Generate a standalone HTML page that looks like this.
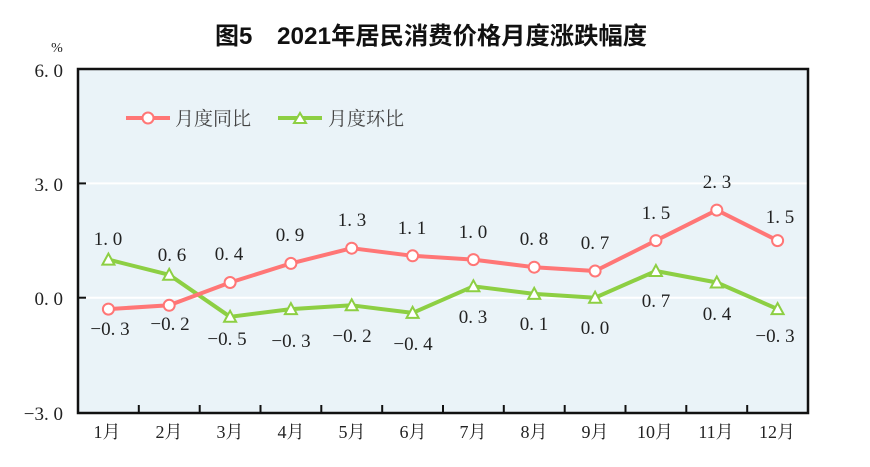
<!DOCTYPE html>
<html>
<head>
<meta charset="utf-8">
<style>
  html, body { margin:0; padding:0; background:#ffffff; }
  svg { display:block; }
  .ser { font-family: "Liberation Serif", "Noto Serif CJK SC", serif; }
  .san { font-family: "Liberation Sans", "Noto Sans CJK SC", sans-serif; }
</style>
</head>
<body>
<svg width="870" height="467" viewBox="0 0 870 467" xmlns="http://www.w3.org/2000/svg">
  <rect x="0" y="0" width="870" height="467" fill="#ffffff"/>

  <!-- Title -->
  <text class="san" x="215" y="44" font-size="24" font-weight="bold" fill="#111">图5</text>
  <text class="san" x="277" y="44" font-size="24" font-weight="bold" fill="#111" textLength="370" lengthAdjust="spacingAndGlyphs">2021年居民消费价格月度涨跌幅度</text>

  <!-- plot area -->
  <rect x="78" y="69" width="730" height="344" fill="#eaf3f8"/>
  <!-- gridlines -->
  <line x1="78" y1="183.4" x2="808" y2="183.4" stroke="#ffffff" stroke-width="2"/>
  <line x1="78" y1="297.7" x2="808" y2="297.7" stroke="#ffffff" stroke-width="2"/>

  <!-- frame -->
  <rect x="78" y="69" width="730" height="344" fill="none" stroke="#111" stroke-width="2.5"/>

  <!-- y ticks -->
  <line x1="78" y1="183.4" x2="86" y2="183.4" stroke="#111" stroke-width="2"/>
  <line x1="78" y1="297.7" x2="86" y2="297.7" stroke="#111" stroke-width="2"/>

  <!-- x ticks -->
  <g stroke="#111" stroke-width="2">
    <line x1="138.8" y1="413" x2="138.8" y2="405"/>
    <line x1="199.7" y1="413" x2="199.7" y2="405"/>
    <line x1="260.5" y1="413" x2="260.5" y2="405"/>
    <line x1="321.3" y1="413" x2="321.3" y2="405"/>
    <line x1="382.2" y1="413" x2="382.2" y2="405"/>
    <line x1="443.0" y1="413" x2="443.0" y2="405"/>
    <line x1="503.8" y1="413" x2="503.8" y2="405"/>
    <line x1="564.7" y1="413" x2="564.7" y2="405"/>
    <line x1="625.5" y1="413" x2="625.5" y2="405"/>
    <line x1="686.3" y1="413" x2="686.3" y2="405"/>
    <line x1="747.2" y1="413" x2="747.2" y2="405"/>
  </g>

  <!-- y labels -->
  <g class="ser" font-size="19" fill="#222" text-anchor="end">
    <text x="63" y="77">6. 0</text>
    <text x="63" y="191">3. 0</text>
    <text x="63" y="305">0. 0</text>
    <text x="63" y="420">−3. 0</text>
  </g>
  <text class="ser" x="57" y="52" font-size="14" fill="#222" text-anchor="middle">%</text>

  <!-- x labels -->
  <g class="ser" font-size="18" fill="#222" text-anchor="middle">
    <text x="107" y="438">1月</text>
    <text x="169" y="438">2月</text>
    <text x="230" y="438">3月</text>
    <text x="291" y="438">4月</text>
    <text x="352" y="438">5月</text>
    <text x="413" y="438">6月</text>
    <text x="473" y="438">7月</text>
    <text x="534" y="438">8月</text>
    <text x="595" y="438">9月</text>
    <text x="655" y="438">10月</text>
    <text x="716" y="438">11月</text>
    <text x="777" y="438">12月</text>
  </g>

  <!-- legend -->
  <line x1="126" y1="118" x2="170" y2="118" stroke="#ff7676" stroke-width="4"/>
  <circle cx="148" cy="118" r="5.5" fill="#fff" stroke="#ff7676" stroke-width="2"/>
  <text class="ser" x="175" y="125" font-size="19" fill="#444">月度同比</text>
  <line x1="278" y1="118" x2="322" y2="118" stroke="#8dcf43" stroke-width="4"/>
  <polygon points="294,123 306,123 300,113" fill="#fff" stroke="#8dcf43" stroke-width="2"/>
  <text class="ser" x="328" y="125" font-size="19" fill="#444">月度环比</text>

  <!-- green series 环比 -->
  <polyline fill="none" stroke="#8dcf43" stroke-width="4" stroke-linejoin="round"
    points="108.4,259.6 169.2,274.8 230.1,316.8 290.9,309.1 351.7,305.3 412.6,312.9 473.4,286.3 534.2,293.9 595.1,297.7 655.9,271.0 716.8,282.5 777.6,309.1"/>

  <!-- red series 同比 -->
  <polyline fill="none" stroke="#ff7676" stroke-width="4" stroke-linejoin="round"
    points="108.4,309.1 169.2,305.3 230.1,282.5 290.9,263.4 351.7,248.2 412.6,255.8 473.4,259.6 534.2,267.2 595.1,271.0 655.9,240.6 716.8,210.1 777.6,240.6"/>

  <!-- green markers -->
  <g fill="#fff" stroke="#8dcf43" stroke-width="2">
    <polygon points="102.4,264.6 114.4,264.6 108.4,253.6"/>
    <polygon points="163.2,279.8 175.2,279.8 169.2,268.8"/>
    <polygon points="224.1,321.8 236.1,321.8 230.1,310.8"/>
    <polygon points="284.9,314.1 296.9,314.1 290.9,303.1"/>
    <polygon points="345.7,310.3 357.7,310.3 351.7,299.3"/>
    <polygon points="406.6,317.9 418.6,317.9 412.6,306.9"/>
    <polygon points="467.4,291.3 479.4,291.3 473.4,280.3"/>
    <polygon points="528.2,298.9 540.2,298.9 534.2,287.9"/>
    <polygon points="589.1,302.7 601.1,302.7 595.1,291.7"/>
    <polygon points="649.9,276.0 661.9,276.0 655.9,265.0"/>
    <polygon points="710.8,287.5 722.8,287.5 716.8,276.5"/>
    <polygon points="771.6,314.1 783.6,314.1 777.6,303.1"/>
  </g>

  <!-- red markers -->
  <g fill="#fff" stroke="#ff7676" stroke-width="2">
    <circle cx="108.4" cy="309.1" r="5.5"/>
    <circle cx="169.2" cy="305.3" r="5.5"/>
    <circle cx="230.1" cy="282.5" r="5.5"/>
    <circle cx="290.9" cy="263.4" r="5.5"/>
    <circle cx="351.7" cy="248.2" r="5.5"/>
    <circle cx="412.6" cy="255.8" r="5.5"/>
    <circle cx="473.4" cy="259.6" r="5.5"/>
    <circle cx="534.2" cy="267.2" r="5.5"/>
    <circle cx="595.1" cy="271.0" r="5.5"/>
    <circle cx="655.9" cy="240.6" r="5.5"/>
    <circle cx="716.8" cy="210.1" r="5.5"/>
    <circle cx="777.6" cy="240.6" r="5.5"/>
  </g>

  <!-- red labels -->
  <g class="ser" font-size="19" fill="#222" text-anchor="middle">
    <text x="110" y="335">−0. 3</text>
    <text x="170" y="330">−0. 2</text>
    <text x="229" y="260">0. 4</text>
    <text x="290" y="241">0. 9</text>
    <text x="352" y="226">1. 3</text>
    <text x="412" y="234">1. 1</text>
    <text x="473" y="238">1. 0</text>
    <text x="534" y="245">0. 8</text>
    <text x="595" y="249">0. 7</text>
    <text x="656" y="219">1. 5</text>
    <text x="717" y="188">2. 3</text>
    <text x="780" y="223">1. 5</text>
  </g>

  <!-- green labels -->
  <g class="ser" font-size="19" fill="#222" text-anchor="middle">
    <text x="108" y="245">1. 0</text>
    <text x="172" y="261">0. 6</text>
    <text x="227" y="345">−0. 5</text>
    <text x="291" y="347">−0. 3</text>
    <text x="352" y="342">−0. 2</text>
    <text x="413" y="350">−0. 4</text>
    <text x="473" y="323">0. 3</text>
    <text x="534" y="330">0. 1</text>
    <text x="595" y="334">0. 0</text>
    <text x="656" y="307">0. 7</text>
    <text x="717" y="320">0. 4</text>
    <text x="775" y="342">−0. 3</text>
  </g>
</svg>
</body>
</html>
